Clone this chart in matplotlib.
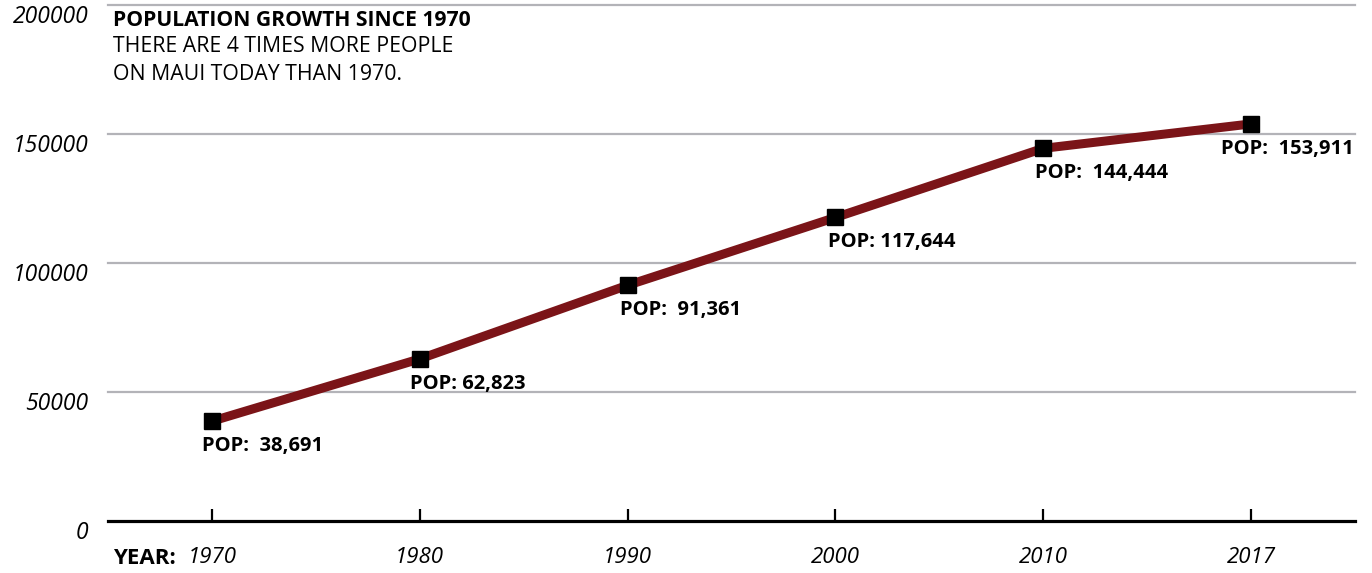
import numpy as np
import matplotlib
matplotlib.use("Agg")
from matplotlib import pyplot as plt
import matplotlib.transforms as mtrans

years = ["1970", "1980", "1990", "2000", "2010", "2017"]
population = [38691, 62823, 91361, 117644, 144444, 153911]
pop_labels = ["POP:  38,691", "POP: 62,823", "POP:  91,361", "POP: 117,644", "POP:  144,444", "POP:  153,911"]
y_ticks = [0, 50000, 100000, 150000, 200000]

plt.rcParams['font.family'] = ['Open Sans', 'DejaVu Sans']

fig = plt.figure(figsize=(13.72, 5.73), dpi=100)
ax = fig.add_axes([108/1372, 52/573, 1247/1372, 516/573])

x = np.arange(len(years))
ax.set_xlim(-0.5, 5.5)
ax.set_ylim(0, 200000)

# grid lines + base line
for v in y_ticks[1:]:
    ax.axhline(v, color='#b3b3b8', lw=1.6, zorder=1, clip_on=False)
ax.axhline(0, color='black', lw=2.3, zorder=2, clip_on=False)

ax.plot(x, population, color='#7b1418', lw=6.5, zorder=3, solid_capstyle='butt')
ax.plot(x, population, 's', color='black', ms=12, zorder=4)

# annotations under each point
offsets = [-10, -10, -8, -7, -8, -30]
for i, (p, lab) in enumerate(zip(population, pop_labels)):
    ax.annotate(lab, (x[i], p), xytext=(offsets[i], -25), textcoords='offset pixels',
                ha='left', va='center', fontsize=14.5, fontweight='bold', zorder=5)

for s in ax.spines.values():
    s.set_visible(False)

ax.set_xticks(x)
ax.set_xticklabels(years, fontsize=16, style='italic')
ax.tick_params(axis='x', direction='in', length=9, width=1.6, color='black', pad=19)
ax.set_yticks(y_ticks)
ax.set_yticklabels([str(v) for v in y_ticks], fontsize=16.5, style='italic', va='center')
ax.tick_params(axis='y', length=0, pad=14)
# y labels sit a bit below their gridlines
off = mtrans.ScaledTranslation(0, -12/100, fig.dpi_scale_trans)
for t in ax.get_yticklabels():
    t.set_transform(t.get_transform() + off)

fig.text(113/1372, 1 - 558/573, "YEAR:", fontsize=16, fontweight='bold', va='center', ha='left')

fig.text(113/1372, 1 - 20/573, "POPULATION GROWTH SINCE 1970", fontsize=15.2, fontweight='bold',
         va='center', ha='left')
fig.text(113/1372, 1 - 47/573, "THERE ARE 4 TIMES MORE PEOPLE", fontsize=15.3,
         va='center', ha='left')
fig.text(113/1372, 1 - 74/573, "ON MAUI TODAY THAN 1970.", fontsize=15.3,
         va='center', ha='left')

fig.savefig("out.png", dpi=100)
